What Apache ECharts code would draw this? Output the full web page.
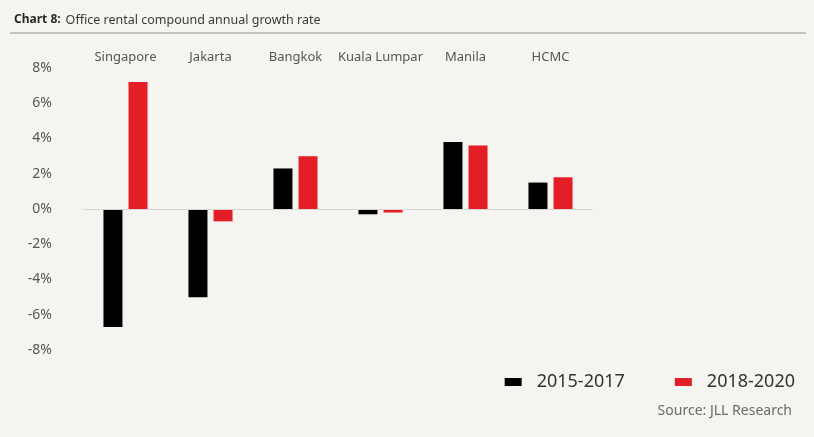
<!DOCTYPE html>
<html>
<head>
<meta charset="utf-8">
<script src="https://cdn.jsdelivr.net/npm/echarts@6/dist/echarts.min.js"></script>
<style>
html,body{margin:0;padding:0;background:#f6f4f0;}
#c{width:814px;height:437px;}
</style>
</head>
<body>
<div id="c"></div>
<script>
const categories = ['Singapore', 'Jakarta', 'Bangkok', 'Kuala Lumpar', 'Manila', 'HCMC'];
const series2015_2017 = [-6.7, -5.0, 2.3, -0.3, 3.8, 1.5];
const series2018_2020 = [7.2, -0.7, 3.0, -0.2, 3.6, 1.8];
const yTicks = [-8, -6, -4, -2, 0, 2, 4, 6, 8];

const chart = echarts.init(document.getElementById('c'));
chart.setOption({
  backgroundColor: '#f6f4f0',
  animation: false,
  title: {
    text: '{b|Chart 8:} {r|Office rental compound annual growth rate}',
    left: 9, top: 6,
    textStyle: {
      fontWeight: 'normal',
      rich: {
        b: {fontFamily: 'Noto Sans', fontWeight: 'bold', fontSize: 12, color: '#2a2a2a'},
        r: {fontFamily: 'Noto Sans', fontWeight: 'normal', fontSize: 12.5, color: '#3a3a3a'}
      }
    }
  },
  graphic: [
    {type: 'rect', shape: {x: 10, y: 32, width: 796, height: 2}, style: {fill: '#c4c2bf'}, silent: true},
    {type: 'text', right: 22, top: 404, style: {text: 'Source: JLL Research', fontFamily: 'Noto Sans', fontSize: 14, fill: '#6b6b6b'}}
  ],
  legend: {
    right: 14, top: 368,
    itemWidth: 17, itemHeight: 8, itemGap: 50,
    icon: 'rect',
    textStyle: {fontFamily: 'Noto Sans', fontSize: 18, color: '#333', padding: [0, 0, 0, 10]},
    data: ['2015-2017', '2018-2020']
  },
  grid: {left: 83, top: 68, width: 510, height: 282},
  xAxis: {
    type: 'category',
    data: categories,
    position: 'top',
    axisLine: {show: false},
    axisTick: {show: false},
    axisLabel: {margin: 4, fontFamily: 'Noto Sans', fontSize: 13, color: '#555', interval: 0}
  },
  yAxis: {
    type: 'value',
    min: -8, max: 8, interval: 2,
    axisLine: {show: false},
    axisTick: {show: false},
    splitLine: {show: false},
    axisLabel: {
      margin: 31, fontFamily: 'Noto Sans', fontSize: 14, color: '#555',
      formatter: v => (yTicks.includes(v) ? v + '%' : '')
    }
  },
  series: [
    {
      name: '2015-2017', type: 'bar', data: series2015_2017,
      barWidth: 19, barGap: '32%',
      itemStyle: {color: '#000'},
      markLine: {
        silent: true, symbol: 'none', label: {show: false},
        lineStyle: {color: '#d8d6d3', width: 1, type: 'solid'},
        data: [{yAxis: 0}]
      }
    },
    {
      name: '2018-2020', type: 'bar', data: series2018_2020,
      barWidth: 19,
      itemStyle: {color: '#e31e26'}
    }
  ]
});
</script>
</body>
</html>
